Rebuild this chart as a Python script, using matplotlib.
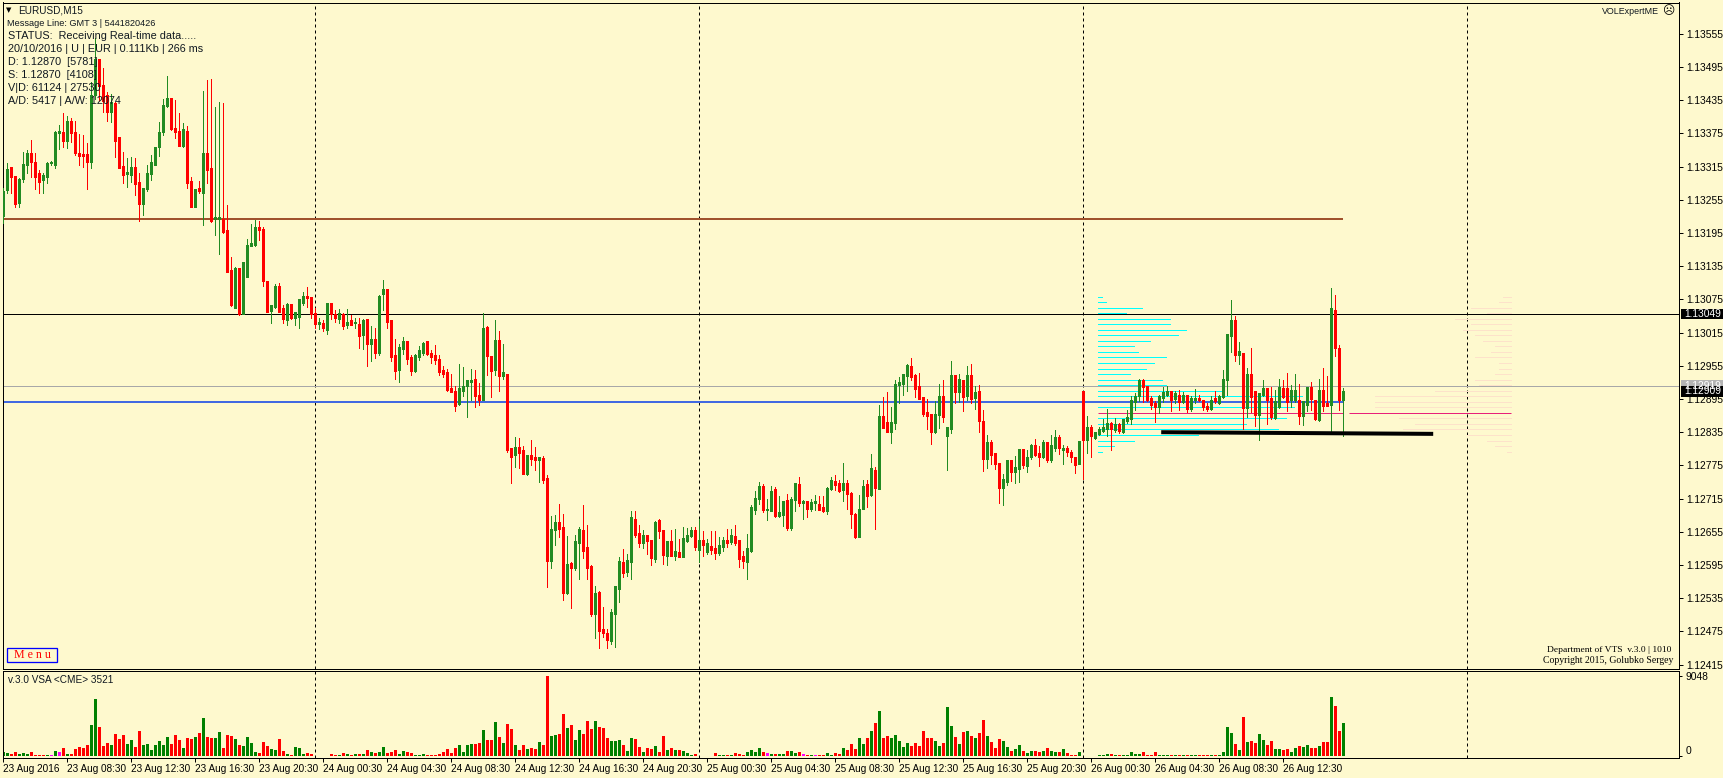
import matplotlib
matplotlib.use("Agg")
import matplotlib.pyplot as plt
from matplotlib.patches import Rectangle
import numpy as np

# prices are stored as points above 1.12000
BASE = 1.12
opens = [
    1226,1273,1313,1297,1250,1293,1317,1339,1323,1302, 1291,1296,1321,1317,1376,1377,1362,1397,1377,1339,
    1337,1336,1324,1444,1508,1461,1444,1413,1428,1368, 1315,1301,1300,1313,1286,1248,1275,1302,1317,1350,
    1377,1425,1438,1383,1379,1353,1379,1288,1242,1275, 1268,1338,1312,1220,1220,1220,1199,1127,1059,1130,
    1049,1115,1172,1173,1204,1202,1108,1054,1061,1099, 1058,1038,1065,1041,1043,1068,1081,1079,1050,1030,
    1032,1020,1068,1048,1039,1047,1029,1036,1032,1030, 1011,1038,994,1002,978,1085,1092,1036,974,947,
    985,998,969,946,971,978,998,978,973,967, 946,943,913,909,886,910,919,925,931,902,
    893,1025,971,947,1000,937,940,805,794,807, 801,760,792,789,785,787,751,603,658,671,
    662,545,597,590,635,658,626,592,507,545, 478,472,458,507,552,599,583,601,678,651,
    635,648,640,606,675,657,612,637,612,617, 610,639,648,658,622,639,619,628,624,617,
    628,639,637,646,639,610,601,621,695,714, 736,695,693,731,684,686,711,662,713,740,
    707,709,696,707,705,698,693,733,745,743, 731,742,725,687,646,696,740,722,765,732,
    864,852,835,852,920,922,937,953,937,917, 897,870,866,835,866,900,828,841,937,908,
    929,900,938,897,908,855,787,816,796,778, 734,745,783,763,769,803,774,790,810,796,
    790,817,785,806,826,803,806,799,790,778, 908,821,844,825,832,837,841,850,839,848,
    835,855,859,890,900,928,917,895,886,881, 897,902,909,895,902,890,902,877,893,895,
    893,882,877,895,888,899,929,1009,1036,974, 978,879,940,908,866,902,913,895,861,881,
    913,913,893,893,893,864,884,915,893,857, 911,886,884,1054,987,893,
]
closes = [
    1270,1310,1297,1248,1292,1318,1339,1323,1297,1288, 1298,1321,1322,1377,1378,1362,1397,1376,1339,1334,
    1334,1324,1444,1508,1461,1434,1414,1431,1362,1313, 1300,1304,1313,1283,1247,1275,1303,1322,1350,1377,
    1425,1438,1382,1378,1353,1381,1286,1242,1273,1270, 1339,1309,1216,1222,1222,1196,1125,1065,1130,1049,
    1142,1173,1175,1204,1201,1108,1053,1064,1099,1053, 1040,1065,1041,1051,1074,1081,1077,1048,1030,1034,
    1023,1068,1048,1041,1050,1027,1034,1029,1033,1009, 1036,995,1002,978,1080,1092,1034,971,946,988,
    998,967,946,973,982,996,976,971,965,944, 940,911,908,882,913,918,928,928,901,893,
    1023,973,946,1000,937,942,803,790,808,798, 760,792,787,785,789,749,603,660,671,660,
    545,595,590,637,660,621,590,507,543,476, 472,460,509,556,601,581,603,680,649,635,
    648,639,608,671,657,613,637,612,619,610, 642,649,658,628,639,631,633,622,617,630,
    639,635,648,635,606,603,624,698,716,736, 695,696,727,684,689,709,662,714,742,707,
    709,696,707,709,695,693,734,747,740,729, 742,724,687,646,696,736,720,769,734,864,
    843,835,853,922,924,940,955,935,913,895, 868,864,835,866,900,862,843,937,908,931,
    899,938,895,906,855,787,817,794,778,734, 749,783,763,772,803,776,790,810,794,790,
    817,785,810,826,806,806,799,790,776,819, 821,844,828,834,839,843,850,841,848,837,
    857,861,893,900,928,917,893,884,881,900, 906,909,893,904,890,902,877,895,895,893,
    881,877,893,891,899,931,1011,1036,974,980, 879,940,899,866,904,913,893,862,891,915,
    899,890,911,911,864,890,915,895,859,911, 882,882,1059,987,893,909,
]
highs = [
    1276,1322,1315,1297,1294,1342,1345,1363,1340,1309, 1304,1323,1325,1379,1390,1411,1406,1402,1397,1373,
    1372,1357,1468,1547,1508,1493,1450,1447,1432,1369, 1342,1331,1333,1330,1303,1275,1318,1336,1350,1396,
    1438,1479,1438,1435,1411,1393,1388,1296,1273,1289, 1452,1472,1473,1423,1432,1429,1246,1152,1134,1130,
    1142,1184,1211,1219,1216,1205,1108,1064,1102,1104, 1065,1069,1065,1053,1074,1089,1097,1079,1059,1041,
    1038,1068,1068,1056,1057,1050,1058,1047,1042,1041, 1039,1039,1027,1023,1083,1110,1092,1036,1003,995,
    1007,998,974,976,991,998,998,983,992,974, 955,950,941,919,958,952,928,949,947,924,
    1050,1027,973,1038,1018,994,940,807,826,825, 810,792,821,808,790,792,758,684,686,705,
    687,648,601,649,664,704,668,595,557,548, 519,480,516,557,610,624,615,693,693,668,
    658,648,640,675,678,658,639,658,660,642, 664,662,664,664,678,657,642,657,657,646,
    646,660,660,668,640,621,651,704,729,745, 742,714,738,736,720,709,724,718,742,754,
    713,709,714,722,720,720,736,754,758,749, 779,749,727,689,722,749,749,796,772,884,
    899,908,881,929,935,940,958,969,940,942, 897,895,866,891,922,929,843,964,938,940,
    929,955,958,918,920,875,830,821,796,778, 760,783,783,792,803,803,803,814,823,810,
    821,817,830,839,830,812,810,803,790,819, 908,864,848,835,844,859,877,853,861,852,
    859,875,900,906,931,931,917,900,891,902, 917,918,909,909,911,908,902,900,913,902,
    893,888,900,909,902,947,1011,1074,1045,998, 978,951,987,908,904,929,913,917,911,931,
    929,942,920,940,922,890,917,926,893,931, 951,937,1095,1083,993,915,
]
lows = [
    1213,1267,1268,1242,1242,1288,1303,1297,1274,1268, 1268,1285,1318,1312,1347,1351,1349,1360,1336,1318,
    1315,1275,1312,1438,1435,1414,1398,1396,1333,1313, 1286,1278,1288,1264,1217,1228,1270,1291,1317,1335,
    1372,1422,1381,1366,1353,1351,1276,1242,1242,1268, 1210,1286,1214,1192,1157,1195,1125,1063,1059,1046,
    1049,1115,1172,1172,1183,1100,1053,1033,1059,1053, 1033,1029,1039,1029,1024,1065,1062,1041,1023,1021,
    1017,1012,1039,1035,1033,1021,1023,1029,1023,987, 985,955,964,969,974,1056,1023,964,931,926,
    976,958,938,944,965,974,974,960,958,938, 935,910,908,873,884,901,863,893,881,884,
    893,938,899,938,910,931,799,743,772,770, 760,758,776,767,745,743,556,590,631,646,
    532,543,518,586,570,608,570,503,463,445, 465,445,453,447,528,574,575,570,646,628,
    626,615,595,601,644,597,595,612,604,610, 610,637,646,622,601,612,615,615,606,613,
    621,628,633,631,592,590,570,619,687,705, 691,677,693,682,682,666,658,658,693,702,
    678,682,693,695,695,691,687,731,731,727, 711,696,662,644,646,696,700,720,660,732,
    843,835,816,841,888,902,909,929,899,895, 864,841,814,834,843,853,767,834,888,890,
    873,893,888,877,835,765,770,778,769,707, 704,740,747,743,745,770,763,787,792,774,
    788,781,781,801,796,778,792,781,761,778, 751,798,790,823,830,835,828,803,835,834,
    834,852,850,875,891,890,891,877,853,870, 890,900,873,888,875,888,872,873,888,891,
    875,873,875,888,886,897,902,980,964,958, 841,862,872,846,821,900,850,859,859,879,
    897,873,881,890,850,848,873,875,857,855, 873,882,833,973,875,828,
]

volumes = [
    450,340,230,450,230,340,230,450,110,110, 110,110,110,570,450,900,230,230,790,1020,
    900,1240,3510,6450,3280,1130,1470,1240,2490,1920, 2380,1360,1810,1020,2830,1240,1360,680,1240,1700,
    1240,2150,1360,2380,1810,900,2040,1920,2150,2600, 4300,2150,2040,2040,2710,900,2380,2260,1920,1240,
    1130,2150,1470,450,340,1580,1130,790,680,1920, 570,230,110,1020,900,230,340,230,0,0,
    0,0,230,110,110,340,230,110,230,230, 230,680,450,340,450,1020,340,450,680,230,
    570,450,340,110,110,230,110,110,110,230, 450,790,340,900,1240,450,1240,1360,1360,1470,
    2940,1810,1810,3850,2150,1470,3620,3050,1240,680, 1240,790,900,790,1580,1240,9048,2260,2380,2490,
    4750,3170,3510,1810,2940,2490,3960,3050,3960,3280, 3170,2040,1700,1700,1810,1240,570,2040,1920,1020,
    450,900,790,1130,450,2260,680,900,680,680, 570,340,110,230,0,0,0,0,340,110,
    110,110,110,340,230,110,450,680,450,900, 450,340,230,230,230,230,570,570,340,450,
    230,110,110,110,110,110,340,110,340,230, 900,680,1360,790,2040,1360,2040,2830,3730,5090,
    2040,2260,2040,2380,1700,1020,1470,1130,1470,1130, 2830,2040,2040,1700,1130,1470,5540,3390,2150,1360,
    2710,2830,2260,2040,2600,4070,2260,1580,900,1920, 1700,1020,570,790,1240,570,340,570,570,450,
    570,900,570,450,450,790,340,110,110,450, 0,0,0,0,110,110,230,230,110,110,
    110,110,450,230,230,450,110,110,450,110, 110,110,110,110,110,110,110,110,110,110,
    110,110,110,110,110,450,3280,2600,1360,680, 4410,1580,1700,1470,2490,1810,1240,1700,790,790,
    680,790,450,900,1130,1020,1240,900,900,1130, 1580,1580,6670,5660,2830,3730,
]
# g = up volume, r = down volume, m = low-activity bar
vol_kinds = (
    "ggrrgggrrr" "rgmgmrgrrr" "rrggrrrgrr" "rggrrggggg" "ggrrrgrrgr" "grrggrrrgr" "ggggrrrggr" "rgrgggrrrr"
    "rrrrgrgrgr" "grgrggrrrg" "grrgggrrrr" "rrrrggggrr" "grrgrgrrgr" "rgrrgrrggr" "rgrggrrrgr" "rrgggrggrr"
    "grrgrrgrgr" "gggrrrrrrg" "grgrrrgggg" "rmgrggrggr" "mrgmrrggrr" "grrrggrgrg" "rrgggggrrr" "rrrggrggrg"
    "rgrgrrgrrr" "ggrggrggrr" "grggrgrrrg" "rrrrgggrgr" "gggggrrrrg" "ggrgrgrggr" "rrgrggggrg" "rgrrggrrgg"
    "rrggrggrrg" "rrgrrg"
)

# market profile rows, price level in points and row volume in bars of width
profile_levels = [1080,1070,1060,1050,1040,1030,1020,1010,1000,990,980,970,960,950,940,930,920,
                  910,900,890,880,860,850,840,830,820,810,800]
profile_left = [1,2,11,7,18,18,22,20,13,9,10,17,14,12,8,16,17,31,51,50,49,47,37,45,25,9,4,1]
profile_right = [2,3,10,6,14,10,12,9,7,4,5,9,3,3,4,9,8,19,34,34,34,28,24,27,11,6,4,1]

price_ticks = [1555,1495,1435,1375,1315,1255,1195,1135,1075,1015,955,895,835,775,715,655,595,535,475,415]
time_ticks = list(range(0, 321, 16))
time_labels = [
    "23 Aug 2016", "23 Aug 08:30", "23 Aug 12:30", "23 Aug 16:30", "23 Aug 20:30",
    "24 Aug 00:30", "24 Aug 04:30", "24 Aug 08:30", "24 Aug 12:30", "24 Aug 16:30", "24 Aug 20:30",
    "25 Aug 00:30", "25 Aug 04:30", "25 Aug 08:30", "25 Aug 12:30", "25 Aug 16:30", "25 Aug 20:30",
    "26 Aug 00:30", "26 Aug 04:30", "26 Aug 08:30", "26 Aug 12:30",
]
day_breaks = [78, 174, 270, 366]

W, H = 1723, 778
BG = "#FEF9CE"
UP = "#228B22"
DOWN = "#FF0000"
plt.rcParams["font.family"] = ["Liberation Sans", "DejaVu Sans"]
px = 0.72  # one pixel in points at dpi 100

fig = plt.figure(figsize=(W / 100, H / 100), dpi=100, facecolor=BG)

def panel(left, top, right, bottom):
    a = fig.add_axes([left / W, 1 - bottom / H, (right - left) / W, (bottom - top) / H], facecolor=BG)
    for s in a.spines.values():
        s.set_linewidth(px)
        s.set_color("black")
    return a

ax = panel(2.5, 2.5, 1679, 668.5)
vax = panel(2.5, 670.5, 1679, 757.5)
xlim = ((2.5 - 3.2) / 4, (1679 - 3.2) / 4)

# ---- price panel
x = np.arange(len(opens))
o = np.array(opens)
c = np.array(closes)
h = np.array(highs)
l = np.array(lows)
colors = [UP if a >= b else DOWN for a, b in zip(c, o)]

ax.set_xlim(*xlim)
ax.set_ylim(1616 - 1.807 * 668.5, 1616 - 1.807 * 2.5)

for d in day_breaks:
    ax.axvline(d, color="black", lw=px, ls=(0, (3, 3)), zorder=1)
    vax.axvline(d, color="black", lw=px, ls=(0, (3, 3)), zorder=1)

ax.hlines(profile_levels, 273.75, 273.75 + np.array(profile_left), color="#00FFFF", lw=px, antialiased=False, zorder=2)
ax.hlines(profile_levels, 377 - np.array(profile_right), 377, color="#FDE2CA", lw=px, antialiased=False, zorder=2)

ax.axhline(1048, color="black", lw=px, zorder=2)
ax.axhline(919, color="#A8A8A8", lw=px, zorder=2)
ax.hlines(1221, xlim[0], 335, color="#A0522D", lw=2 * px, zorder=2)
ax.hlines(890, xlim[0], 335, color="#4169E1", lw=2 * px, zorder=2)
ax.hlines(869, 273.75, 335, color="#E8207A", lw=px, zorder=2)
ax.hlines(869, 336.5, 377, color="#E8207A", lw=px, zorder=2)

ax.vlines(x, l, h, colors=colors, lw=px, antialiased=False, zorder=3)
ax.vlines(x, np.minimum(o, c), np.maximum(o, c) + 1, colors=colors, lw=3 * px, antialiased=False, zorder=4)

ax.plot([289.5, 357.5], [835, 832], color="black", lw=4 * px, solid_capstyle="butt", zorder=5)

ax.set_xticks([])
ax.yaxis.tick_right()
ax.set_yticks(price_ticks)
ax.set_yticklabels([f"{BASE + p * 1e-5:.5f}" for p in price_ticks], fontsize=7.4, color="black")
ax.tick_params(axis="y", length=3, width=px, pad=2)

# current price tags on the axis
for level, label_txt, col in [(919, "1.12919", "#B4B4B4"), (1049, "1.13049", "black"), (909, "1.12909", "black")]:
    ax.add_patch(Rectangle((1.0012, level - 9.5), 0.0265, 19, transform=ax.get_yaxis_transform(),
                           fc=col, ec="none", clip_on=False, zorder=8))
    ax.text(1.0030, level, label_txt, transform=ax.get_yaxis_transform(), color="white", fontsize=7.4,
            va="center", ha="left", clip_on=False, zorder=9)

# ---- volume panel
kind_colors = {"g": "#008000", "r": "#FF0000", "m": "#FF00FF"}
vax.bar(x, volumes, width=0.75, color=[kind_colors[k] for k in vol_kinds], linewidth=0, antialiased=False, zorder=2)
vax.set_xlim(*xlim)
vax.set_ylim(-170, 9670)
vax.set_xticks(time_ticks)
vax.set_xticklabels(time_labels, fontsize=7.2, ha="left")
vax.tick_params(axis="x", length=3, width=px, pad=2)
vax.yaxis.tick_right()
vax.set_yticks([0, 9048])
vax.set_yticklabels(["0", "9048"], fontsize=7.4)
vax.get_yticklabels()[0].set_va("bottom")
vax.tick_params(axis="y", length=2, width=px, pad=3)

# ---- texts on top
def label(xp, yp, s, size, **kw):
    kw.setdefault("va", "center")
    kw.setdefault("color", "#101820")
    fig.text(xp / W, 1 - yp / H, s, fontsize=size, zorder=10, **kw)

label(6, 10.5, "\u25bc", 5, family="DejaVu Sans", color="black")
label(18, 10.5, "EURUSD,M15", 7.2)
label(7.3, 23.5, "Message Line: GMT 3 | 5441820426", 6.6)
label(8, 36, "STATUS:  Receiving Real-time data.....", 7.8)
label(8, 49, "20/10/2016 | U | EUR | 0.111Kb | 266 ms", 7.8)
label(8, 62, "D: 1.12870  [5781]", 7.8)
label(8, 75, "S: 1.12870  [4108]", 7.8)
label(8, 88, "V|D: 61124 | 27530", 7.8)
label(8, 101, "A/D: 5417 | A/W: 12074", 7.8)
label(1602, 11, "VOLExpertME", 6.4)
label(1662, 11, "\u2639", 8.5, family="DejaVu Sans", color="black")
label(1671, 649.5, "Department of VTS  v.3.0 | 1010", 6.8, ha="right", family="Liberation Serif", color="black")
label(1673, 660.5, "Copyright 2015, Golubko Sergey", 7.0, ha="right", family="Liberation Serif", color="black")
label(8, 680, "v.3.0 VSA <CME> 3521", 7.2)

fig.add_artist(Rectangle((7.5 / W, 1 - 662 / H), 49.5 / W, 14 / H, transform=fig.transFigure,
                         fc=BG, ec="#0000FF", lw=px * 1.3, zorder=9))
label(32, 655, "M e n u", 8.6, ha="center", family="Liberation Serif", color="#FF0000")

fig.savefig("out.png", dpi=100, facecolor=BG)
